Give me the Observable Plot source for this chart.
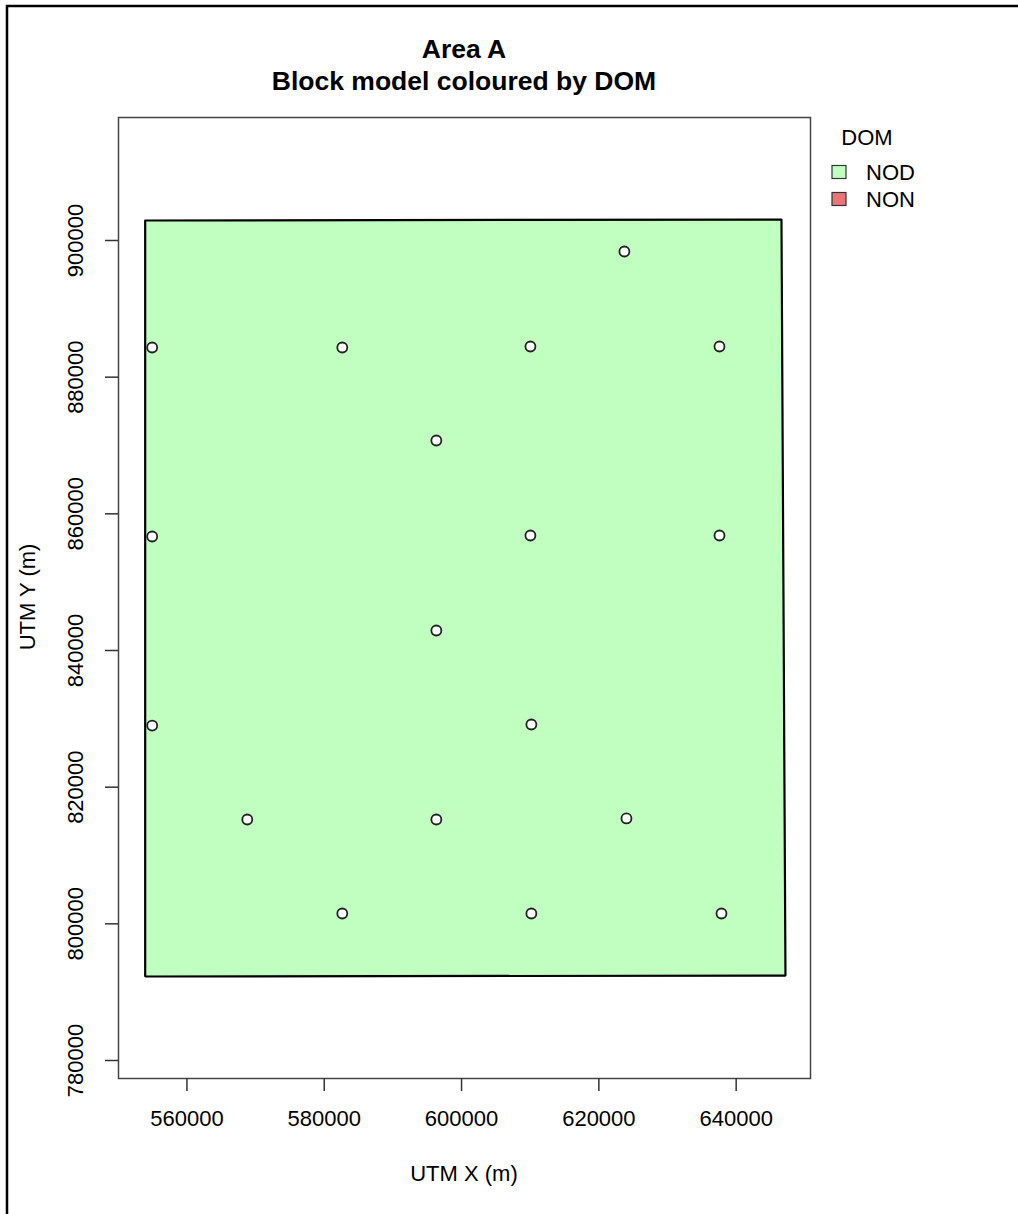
<!DOCTYPE html>
<html>
<head>
<meta charset="utf-8">
<script src="https://cdn.jsdelivr.net/npm/d3@7"></script>
<script src="https://cdn.jsdelivr.net/npm/@observablehq/plot@0.6"></script>
<style>
  html, body { margin: 0; padding: 0; background: #fff; }
  #chart svg { display: block; }
</style>
</head>
<body>
<div id="chart"></div>
<script>
// ---- data ----
const titleLines = ["Area A", "Block model coloured by DOM"];
const xLabel = "UTM X (m)";
const yLabel = "UTM Y (m)";
const xTicks = [560000, 580000, 600000, 620000, 640000];
const yTicks = [780000, 800000, 820000, 840000, 860000, 880000, 900000];
const domTitle = "DOM";
const domCategories = ["NOD", "NON"];
const domColors = ["#C1FFC1", "#E87676"];
// block model outline (NOD)
const blockX = [553920, 646600, 647180, 553920, 553920];
const blockY = [902930, 903070, 792430, 792290, 902930];
// drill hole collars
const holeX = [554940, 582630, 610030, 637570, 623720, 596330, 554940, 610030, 637570, 596330, 554940, 610170, 568790, 596330, 624020, 582630, 610170, 637860];
const holeY = [884340, 884340, 884490, 884490, 898390, 870730, 856680, 856830, 856830, 842930, 829020, 829170, 815270, 815270, 815420, 801510, 801510, 801510];

const block = blockX.map((x, i) => ({x, y: blockY[i], dom: domCategories[0]}));
const holes = holeX.map((x, i) => ({x, y: holeY[i]}));
const fmt = d3.format("d");
const FONT = "'Liberation Sans', Arial, sans-serif";

const svg = Plot.plot({
  width: 1018,
  height: 1214,
  marginLeft: 118,
  marginRight: 208,
  marginTop: 117,
  marginBottom: 136,
  style: {fontFamily: FONT, fontSize: "22px", color: "#000", background: "#fff"},
  x: {domain: [550033, 650827]},
  y: {domain: [777366, 918000]},
  color: {domain: domCategories, range: domColors},
  marks: [
    Plot.line(block, {x: "x", y: "y", fill: "dom", stroke: "#000", strokeWidth: 2.2, strokeLinejoin: "miter"}),
    Plot.dot(holes, {x: "x", y: "y", r: 5, fill: "#fff", stroke: "#222", strokeWidth: 1.8}),
    Plot.frame({stroke: "#444", strokeWidth: 1.5}),
    Plot.axisX({ticks: xTicks, tickSize: 13, tickPadding: 19, tickFormat: fmt, fontSize: 22, stroke: "#333", strokeWidth: 1.5, label: null}),
    Plot.axisY({ticks: yTicks, tickSize: 13, tickFormat: () => "", stroke: "#333", strokeWidth: 1.5, label: null}),
    Plot.text(yTicks, {y: d => d, frameAnchor: "left", dx: -43, rotate: -90, textAnchor: "middle", text: d => fmt(d), fontSize: 22, fill: "#000"})
  ]
});

const s = d3.select(svg);
// outer border (top and left visible)
s.append("path").attr("d", "M7,1214 L7,6 L1018,6").attr("fill", "none").attr("stroke", "#000").attr("stroke-width", 2.5);
// title
titleLines.forEach((t, i) => {
  s.append("text").attr("x", 464).attr("y", 48 + i * 32).attr("dy", "0.36em")
    .attr("text-anchor", "middle").attr("font-family", FONT).attr("font-weight", "bold")
    .attr("font-size", 26.5).attr("fill", "#000").text(t);
});
// axis titles
s.append("text").attr("x", 464).attr("y", 1173).attr("dy", "0.36em").attr("text-anchor", "middle")
  .attr("font-family", FONT).attr("font-size", 22).attr("fill", "#000").text(xLabel);
s.append("text").attr("transform", "translate(27,597) rotate(-90)").attr("dy", "0.36em").attr("text-anchor", "middle")
  .attr("font-family", FONT).attr("font-size", 22).attr("fill", "#000").text(yLabel);
// legend
const lg = s.append("g").attr("font-family", FONT).attr("font-size", 22);
lg.append("text").attr("x", 867).attr("y", 137).attr("dy", "0.36em").attr("text-anchor", "middle").attr("fill", "#000").text(domTitle);
domCategories.forEach((c, i) => {
  const cy = 172 + i * 27;
  lg.append("rect").attr("x", 832).attr("y", cy - 6.5).attr("width", 14).attr("height", 13)
    .attr("fill", domColors[i]).attr("stroke", "#333").attr("stroke-width", 1.2);
  lg.append("text").attr("x", 866).attr("y", cy).attr("dy", "0.36em").attr("text-anchor", "start").attr("fill", "#000").text(c);
});

document.getElementById("chart").appendChild(svg);
</script>
</body>
</html>
